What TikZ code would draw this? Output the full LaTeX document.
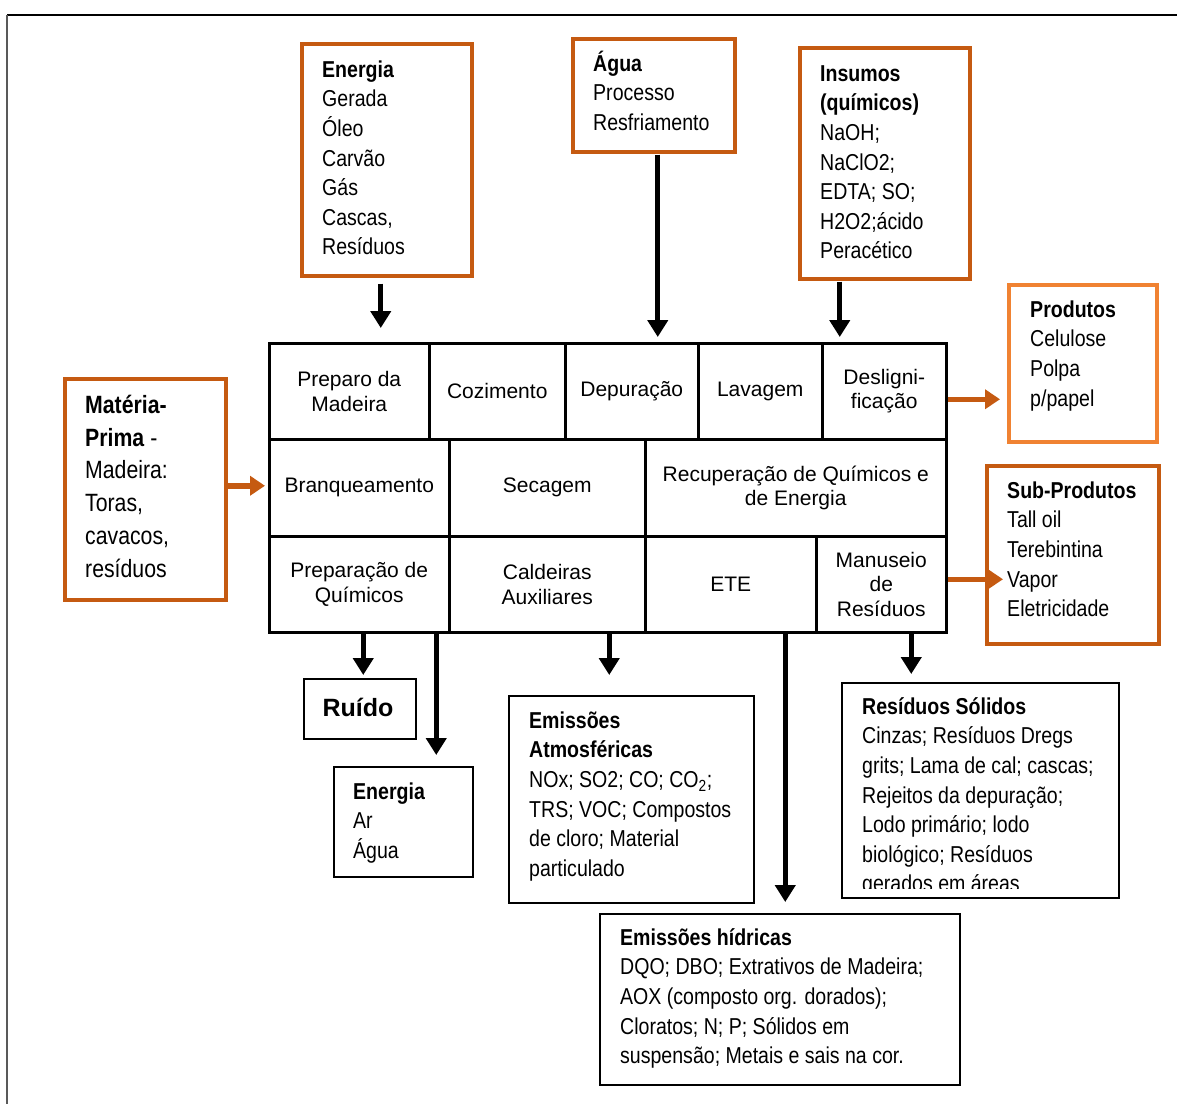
\documentclass[tikz,border=0pt]{standalone}
\usepackage{fontspec}
\setmainfont{Liberation Sans}
\newfontfamily\narrow[FakeStretch=0.85]{Liberation Sans}
\usetikzlibrary{arrows.meta}
\definecolor{burnt}{HTML}{C55A11}
\definecolor{lightor}{HTML}{F08232}

\begin{document}
\begin{tikzpicture}[x=1pt,y=-1pt,
  obox/.style={draw=burnt, line width=3.5pt, inner sep=0pt, anchor=north west},
  lbox/.style={draw=lightor, line width=3.5pt, inner sep=0pt, anchor=north west},
  kbox/.style={draw=black, line width=2pt, inner sep=0pt, anchor=north west},
  cell/.style={draw=black, line width=2.5pt, inner sep=0pt, anchor=north west,
    align=center, font=\fontsize{21}{24.5}\selectfont},
  txt/.style={anchor=north west, inner sep=0pt, align=left,
    font=\narrow\fontsize{23}{29.6}\selectfont},
  bigtxt/.style={anchor=north west, inner sep=0pt, align=left,
    font=\narrow\fontsize{25}{32.8}\selectfont},
  barrow/.style={draw=black, line width=5pt, -{Triangle[width=20pt,length=17pt]}},
  oarrow/.style={draw=burnt, line width=5.5pt, -{Triangle[width=19pt,length=15pt]}},
]
\newcommand{\fs}{\rule{0pt}{22pt}}
\useasboundingbox (0,0) rectangle (1177,1104);
\fill[white] (0,0) rectangle (1177,1104);

% page frame
\draw[black, line width=1.5pt] (7,15) -- (1177,15);
\draw[gray!70!black, line width=2pt] (7,15) -- (7,1104);

% process table
\node[cell, minimum width=160pt, minimum height=96pt] (preparo) at (268,342) {Preparo da\\Madeira};
\node[cell, minimum width=136pt, minimum height=96pt] (cozi) at (428,342) {Cozimento};
\node[cell, minimum width=133pt, minimum height=96pt] (depur) at (564,342) {Depuração};
\node[cell, minimum width=124pt, minimum height=96pt] (lavag) at (697,342) {Lavagem};
\node[cell, minimum width=124pt, minimum height=96pt] (deslig) at (821,342) {Desligni-\\ficação};

\node[cell, minimum width=180pt, minimum height=97pt] (branq) at (268,438) {\raisebox{3pt}{Branqueamento}};
\node[cell, minimum width=196pt, minimum height=97pt] (secag) at (448,438) {Secagem};
\node[cell, minimum width=301pt, minimum height=97pt] (recup) at (644,438) {Recuperação de Químicos e\\de Energia};

\node[cell, minimum width=180pt, minimum height=96pt] (prepq) at (268,535) {Preparação de\\Químicos};
\node[cell, minimum width=196pt, minimum height=96pt] (cald) at (448,535) {Caldeiras\\Auxiliares};
\node[cell, minimum width=171pt, minimum height=96pt] (ete) at (644,535) {ETE};
\node[cell, minimum width=130pt, minimum height=96pt] (manus) at (815,535) {Manuseio\\de\\Resíduos};

% input boxes
\node[obox, minimum width=170pt, minimum height=232pt] (energia) at (300,42) {};
\node[txt] (energia-t) at (322,55) {\fs\textbf{Energia}\\Gerada\\Óleo\\Carvão\\Gás\\Cascas,\\Resíduos};

\node[obox, minimum width=162pt, minimum height=113pt] (agua) at (571,37) {};
\node[txt] (agua-t) at (593,49) {\fs\textbf{Água}\\Processo\\Resfriamento};

\node[obox, minimum width=170pt, minimum height=231pt] (insumos) at (798,46) {};
\node[txt] (insumos-t) at (820,59) {\fs\textbf{Insumos}\\\textbf{(químicos)}\\NaOH;\\NaClO2;\\EDTA; SO;\\H2O2;ácido\\Peracético};

\node[obox, minimum width=161pt, minimum height=221pt] (materia) at (63,377) {};
\node[bigtxt] (materia-t) at (85,389) {\rule{0pt}{24pt}\textbf{Matéria-}\\\textbf{Prima} -\\Madeira:\\Toras,\\cavacos,\\resíduos};

% output boxes
\node[lbox, minimum width=148pt, minimum height=157pt] (produtos) at (1007,283) {};
\node[txt] (produtos-t) at (1030,295) {\fs\textbf{Produtos}\\Celulose\\Polpa\\p/papel};

\node[obox, minimum width=172pt, minimum height=178pt] (subprod) at (985,464) {};
\node[txt] (subprod-t) at (1007,476) {\fs\textbf{Sub-Produtos}\\Tall oil\\Terebintina\\Vapor\\Eletricidade};

\node[kbox, minimum width=112pt, minimum height=60pt] (ruido) at (303,678) {};
\node[font=\bfseries\fontsize{25}{30}\selectfont, inner sep=0pt, anchor=base] (ruido-t) at (358,716) {Ruído};

\node[kbox, minimum width=139pt, minimum height=110pt] (energia2) at (333,766) {};
\node[txt] (energia2-t) at (353,777) {\fs\textbf{Energia}\\Ar\\Água};

\node[kbox, minimum width=245pt, minimum height=207pt] (ematm) at (508,695) {};
\node[txt] (ematm-t) at (529,706) {\fs\textbf{Emissões}\\\textbf{Atmosféricas}\\NOx; SO2; CO; CO\textsubscript{2};\\TRS; VOC; Compostos\\de cloro; Material\\particulado};

\node[kbox, minimum width=277pt, minimum height=215pt] (ressol) at (841,682) {};
\begin{scope}
  \clip (841,682) rectangle (1118,888);
  \node[txt] (ressol-t) at (862,692) {\fs\textbf{Resíduos Sólidos}\\Cinzas; Resíduos Dregs\\grits; Lama de cal; cascas;\\Rejeitos da depuração;\\Lodo primário; lodo\\biológico; Resíduos\\gerados em áreas};
\end{scope}

\node[kbox, minimum width=360pt, minimum height=171pt] (emhid) at (599,913) {};
\node[txt] (emhid-t) at (620,923) {\fs\textbf{Emissões hídricas}\\DQO; DBO; Extrativos de Madeira;\\AOX (composto org. dorados);\\Cloratos; N; P; Sólidos em\\suspensão; Metais e sais na cor.};

% inputs into the process
\coordinate (eA) at ([xshift=-6pt]energia.south);
\draw[barrow, shorten <=6pt, shorten >=14pt] (eA) -- (eA |- preparo.north);
\coordinate (aA) at ([xshift=4pt]agua.south);
\draw[barrow, shorten <=1pt, shorten >=5pt] (aA) -- (aA |- depur.north);
\coordinate (iA) at ([xshift=-45pt]insumos.south);
\draw[barrow, shorten <=1pt, shorten >=5pt] (iA) -- (iA |- deslig.north);

\coordinate (mA) at ([yshift=3.5pt]materia.east);
\draw[oarrow, shorten >=3pt] (mA) -- (mA -| branq.west);

% products and by-products
\coordinate (pA) at ([yshift=-8pt]deslig.east);
\draw[oarrow, shorten >=7pt] (pA) -- (pA -| produtos.west);
\coordinate (sA) at ([yshift=5pt]manus.east);
\draw[oarrow, shorten >=-18pt] (sA) -- (sA -| subprod.west);

% outputs of the process
\coordinate (b1) at ([xshift=4pt]prepq.south);
\draw[barrow, shorten >=3pt] (b1) -- (b1 |- ruido.north);
\coordinate (b2) at ([xshift=77pt]prepq.south);
\draw[barrow, shorten >=11pt] (b2) -- (b2 |- energia2.north);
\coordinate (b3) at ([xshift=62pt]cald.south);
\draw[barrow, shorten >=20pt] (b3) -- (b3 |- ematm.north);
\coordinate (b4) at ([xshift=54.5pt]ete.south);
\draw[barrow, shorten >=11pt] (b4) -- (b4 |- emhid.north);
\coordinate (b5) at ([xshift=30pt]manus.south);
\draw[barrow, shorten >=8pt] (b5) -- (b5 |- ressol.north);
\end{tikzpicture}
\end{document}
